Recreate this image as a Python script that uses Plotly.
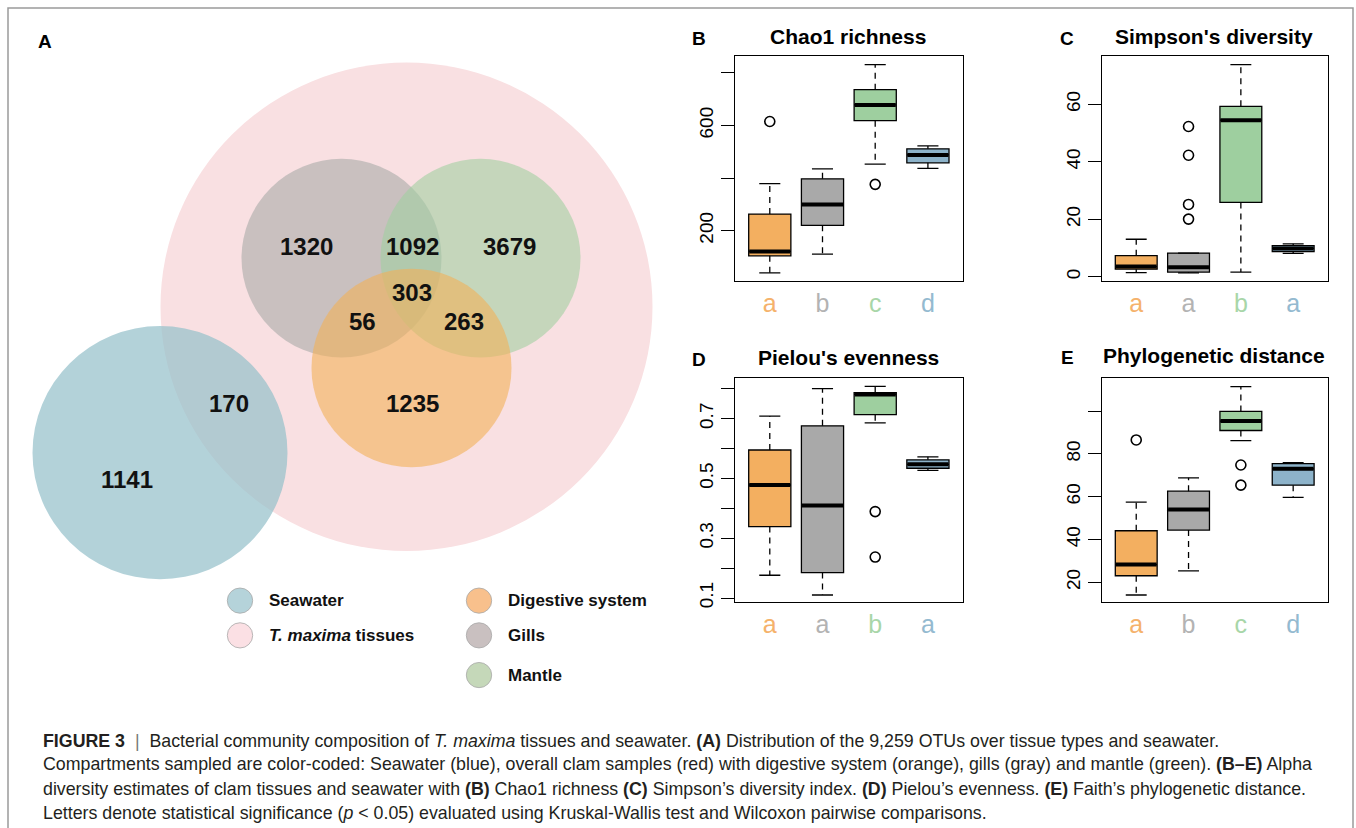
import plotly.graph_objects as go

W, H = 1356, 828
FONT = "Liberation Sans, Arial, Helvetica, sans-serif"

# ---------------- Data ----------------
# Panel A: Venn counts
venn_counts = [1141, 170, 1320, 1092, 3679, 303, 56, 263, 1235]
legend_names = ["Seawater", "<i>T. maxima</i> tissues", "Digestive system", "Gills", "Mantle"]

# Box-plot groups (Digestive, Gills, Mantle, Seawater)
groups = [1, 2, 3, 4]
box_colors = ["#f3af60", "#a9a9a9", "#9ecf9f", "#8db3ca"]
letter_colors = ["#f5b26b", "#b3b3b3", "#a8d6a8", "#94bad0"]

# B: Chao1 richness
chao_lo = [39, 111, 453, 437]
chao_q1 = [104, 220, 618, 458]
chao_med = [121, 299, 678, 488]
chao_q3 = [263, 397, 736, 511]
chao_hi = [379, 435, 831, 522]
chao_out_x = [1, 3]
chao_out_y = [615, 376]
chao_letters = ["a", "b", "c", "d"]
chao_ticks = [200, 400, 600, 800]
chao_ticktext = ["200", "", "600", ""]

# C: Simpson's diversity
simp_lo = [1.5, 1.4, 1.7, 8.2]
simp_q1 = [2.7, 1.7, 25.9, 8.8]
simp_med = [3.6, 3.4, 54.5, 9.9]
simp_q3 = [7.4, 8.3, 59.3, 10.9]
simp_hi = [13.1, 8.3, 73.8, 11.5]
simp_out_x = [2, 2, 2, 2]
simp_out_y = [20.1, 25.2, 42.3, 52.3]
simp_letters = ["a", "a", "b", "a"]
simp_ticks = [0, 20, 40, 60]
simp_ticktext = ["0", "20", "40", "60"]

# D: Pielou's evenness
piel_lo = [0.176, 0.11, 0.686, 0.527]
piel_q1 = [0.339, 0.185, 0.713, 0.534]
piel_med = [0.478, 0.409, 0.781, 0.547]
piel_q3 = [0.595, 0.676, 0.787, 0.562]
piel_hi = [0.708, 0.80, 0.808, 0.572]
piel_out_x = [3, 3]
piel_out_y = [0.389, 0.237]
piel_letters = ["a", "a", "b", "a"]
piel_ticks = [0.1, 0.2, 0.3, 0.4, 0.5, 0.6, 0.7, 0.8]
piel_ticktext = ["0.1", "", "0.3", "", "0.5", "", "0.7", ""]

# E: Phylogenetic distance
phy_lo = [14.1, 25.4, 86.2, 59.7]
phy_q1 = [23.1, 44.4, 90.9, 65.4]
phy_med = [28.3, 54.0, 95.3, 73.0]
phy_q3 = [44.1, 62.6, 99.8, 75.4]
phy_hi = [57.5, 68.8, 111.4, 75.9]
phy_out_x = [1, 3, 3]
phy_out_y = [86.5, 74.8, 65.4]
phy_letters = ["a", "b", "c", "d"]
phy_ticks = [20, 40, 60, 80, 100]
phy_ticktext = ["20", "40", "60", "80", ""]

# ---------------- Figure ----------------
fig = go.Figure()


def px_x(v):
    return v / W


def px_y(v):
    return 1 - v / H


def label(x, y, text, size, color="black", xanchor="center"):
    return dict(x=px_x(x), y=px_y(y), xref="paper", yref="paper", text=text,
                showarrow=False, xanchor=xanchor, yanchor="middle",
                font=dict(size=size, family=FONT, color=color))


panels = [
    dict(key="", title="Chao1 richness", letter="B", box=(735, 962.7, 56.7, 283.3),
         rng=[7.5, 863], lo=chao_lo, q1=chao_q1, med=chao_med, q3=chao_q3, hi=chao_hi,
         ox=chao_out_x, oy=chao_out_y, letters=chao_letters, tv=chao_ticks, tt=chao_ticktext,
         title_pos=(848, 37), letter_pos=(699, 39)),
    dict(key="2", title="Simpson's diversity", letter="C", box=(1101.7, 1327.7, 56.7, 283.3),
         rng=[-1.5, 76.7], lo=simp_lo, q1=simp_q1, med=simp_med, q3=simp_q3, hi=simp_hi,
         ox=simp_out_x, oy=simp_out_y, letters=simp_letters, tv=simp_ticks, tt=simp_ticktext,
         title_pos=(1214, 37), letter_pos=(1067, 39)),
    dict(key="3", title="Pielou's evenness", letter="D", box=(735, 962.7, 380.7, 606.7),
         rng=[0.0856, 0.836], lo=piel_lo, q1=piel_q1, med=piel_med, q3=piel_q3, hi=piel_hi,
         ox=piel_out_x, oy=piel_out_y, letters=piel_letters, tv=piel_ticks, tt=piel_ticktext,
         title_pos=(848, 360), letter_pos=(699, 362)),
    dict(key="4", title="Phylogenetic distance", letter="E", box=(1101.7, 1327.7, 381, 606.7),
         rng=[10.7, 115.3], lo=phy_lo, q1=phy_q1, med=phy_med, q3=phy_q3, hi=phy_hi,
         ox=phy_out_x, oy=phy_out_y, letters=phy_letters, tv=phy_ticks, tt=phy_ticktext,
         title_pos=(1214, 358), letter_pos=(1067, 360)),
]

annotations = []
shapes = []
layout_axes = {}
BW = 0.8

for p in panels:
    xa = "x" + p["key"]
    ya = "y" + p["key"]
    x0, x1, y0, y1 = p["box"]
    for i, g in enumerate(groups):
        fig.add_trace(go.Box(
            x=[g], q1=[p["q1"][i]], median=[p["med"][i]], q3=[p["q3"][i]],
            lowerfence=[p["q1"][i]], upperfence=[p["q3"][i]],
            width=BW, fillcolor=box_colors[i], line=dict(color="black", width=1.3),
            xaxis=xa, yaxis=ya, hoverinfo="skip", showlegend=False))
        # dashed whiskers
        fig.add_trace(go.Scatter(
            x=[g, g, None, g, g], y=[p["q3"][i], p["hi"][i], None, p["q1"][i], p["lo"][i]],
            mode="lines", line=dict(color="black", width=1.3, dash="6px,5px"),
            xaxis=xa, yaxis=ya, hoverinfo="skip", showlegend=False))
        # caps
        fig.add_trace(go.Scatter(
            x=[g - BW / 4, g + BW / 4, None, g - BW / 4, g + BW / 4],
            y=[p["hi"][i], p["hi"][i], None, p["lo"][i], p["lo"][i]],
            mode="lines", line=dict(color="black", width=1.3),
            xaxis=xa, yaxis=ya, hoverinfo="skip", showlegend=False))
        # thick median
        fig.add_trace(go.Scatter(
            x=[g - BW / 2 + 0.01, g + BW / 2 - 0.01], y=[p["med"][i], p["med"][i]],
            mode="lines", line=dict(color="black", width=4),
            xaxis=xa, yaxis=ya, hoverinfo="skip", showlegend=False))
    fig.add_trace(go.Scatter(
        x=p["ox"], y=p["oy"], mode="markers",
        marker=dict(symbol="circle-open", size=10, color="black", line=dict(width=1.6)),
        xaxis=xa, yaxis=ya, hoverinfo="skip", showlegend=False))

    ticktext = [f"<span style='color:{letter_colors[i]}'>{p['letters'][i]}</span>" for i in range(4)]
    layout_axes["xaxis" + p["key"]] = dict(
        domain=[px_x(x0), px_x(x1)], anchor=ya, range=[0.34, 4.66],
        showline=True, linecolor="black", linewidth=1.3, mirror=True,
        showgrid=False, zeroline=False, ticks="",
        tickmode="array", tickvals=groups, ticktext=ticktext,
        tickfont=dict(size=25, family=FONT))
    layout_axes["yaxis" + p["key"]] = dict(
        domain=[px_y(y1), px_y(y0)], anchor=xa, range=p["rng"],
        showline=True, linecolor="black", linewidth=1.3, mirror=True,
        showgrid=False, zeroline=False, ticks="outside", ticklen=13, tickwidth=1.3,
        tickcolor="black", tickmode="array", tickvals=p["tv"], ticktext=p["tt"],
        tickangle=-90, tickfont=dict(size=19, family=FONT, color="black"))
    annotations.append(label(*p["title_pos"], "<b>" + p["title"] + "</b>", 21))
    annotations.append(label(*p["letter_pos"], "<b>" + p["letter"] + "</b>", 19))

# ---------------- Venn (panel A) ----------------
circles = [  # cx, cy, r, fill
    (406.5, 309, 246, "rgb(249,224,226)"),
    (160, 456, 127.5, "rgba(149,192,202,0.72)"),
    (341.5, 260, 100, "rgba(169,170,169,0.6)"),
    (480.5, 260, 100, "rgba(162,207,161,0.6)"),
    (411.5, 370.6, 100, "rgba(242,177,88,0.6)"),
]
for cx, cy, r, fill in circles:
    shapes.append(dict(type="circle", xref="paper", yref="paper",
                       x0=px_x(cx - r), x1=px_x(cx + r), y0=px_y(cy + r), y1=px_y(cy - r),
                       fillcolor=fill, line=dict(width=0), layer="below"))

venn_pos = [(127, 483), (229, 406), (306, 248), (412, 248), (509, 248),
            (412, 295), (362, 324), (464, 324), (412, 406)]
for (x, y), c in zip(venn_pos, venn_counts):
    annotations.append(label(x, y, f"<b>{c}</b>", 24, "#111"))
annotations.append(label(45, 42, "<b>A</b>", 19))

# Venn legend
legend_colors = ["#b5d3da", "#fbe0e4", "#f8c08c", "#c9c0c0", "#c5d8b9"]
legend_pos = [(240, 605), (240, 640), (479, 605), (479, 640), (479, 680)]
for (x, y), col, name in zip(legend_pos, legend_colors, legend_names):
    r = 12.7
    shapes.append(dict(type="circle", xref="paper", yref="paper",
                       x0=px_x(x - r), x1=px_x(x + r), y0=px_y(y + r), y1=px_y(y - r),
                       fillcolor=col, line=dict(width=0.8, color="#a8a8a8")))
    annotations.append(label(x + 27, y, f"<b>{name}</b>", 17, "#111", xanchor="left"))

# ---------------- Caption ----------------
caption_lines = [
    "<b>FIGURE 3</b>  <span style='color:#777'>|</span>  Bacterial community composition of <i>T. maxima</i> tissues and seawater. <b>(A)</b> Distribution of the 9,259 OTUs over tissue types and seawater.",
    "Compartments sampled are color-coded: Seawater (blue), overall clam samples (red) with digestive system (orange), gills (gray) and mantle (green). <b>(B–E)</b> Alpha",
    "diversity estimates of clam tissues and seawater with <b>(B)</b> Chao1 richness <b>(C)</b> Simpson’s diversity index. <b>(D)</b> Pielou’s evenness. <b>(E)</b> Faith’s phylogenetic distance.",
    "Letters denote statistical significance (<i>p</i> &lt; 0.05) evaluated using Kruskal-Wallis test and Wilcoxon pairwise comparisons.",
]
caption_y = [746, 770, 795, 819]
for txt, y in zip(caption_lines, caption_y):
    annotations.append(label(41, y, txt, 17.8, "#231f20", xanchor="left"))

# outer frame
shapes.append(dict(type="rect", xref="paper", yref="paper",
                   x0=px_x(8), x1=px_x(1353), y0=-0.05, y1=px_y(8),
                   line=dict(color="#9a9a9a", width=1.5), fillcolor="rgba(0,0,0,0)"))

fig.update_layout(
    width=W, height=H, margin=dict(l=0, r=0, t=0, b=0),
    paper_bgcolor="white", plot_bgcolor="rgba(0,0,0,0)",
    showlegend=False, annotations=annotations, shapes=shapes,
    font=dict(family=FONT), **layout_axes)

fig.write_html("out.html", config={"displayModeBar": False},
               post_script="document.body.style.margin='0';document.body.style.overflow='hidden';")
